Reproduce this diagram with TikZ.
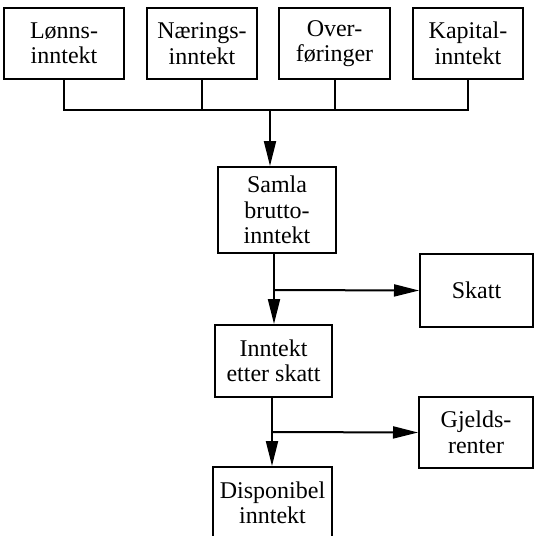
\documentclass[tikz,border=0pt]{standalone}
\usepackage{fontspec}
\setmainfont{Liberation Serif}
\usetikzlibrary{arrows.meta}
\tikzset{
  box/.style={draw, line width=2pt, align=center, inner sep=0pt,
    font=\fontsize{24}{25.5}\selectfont},
  arr/.style={line width=2pt, -{Triangle[length=25pt,width=12pt]}},
  lin/.style={line width=2pt}
}
\begin{document}
\begin{tikzpicture}[x=1pt,y=-1pt]
\useasboundingbox (0,0) rectangle (534,536);

% Inntektskilder
\node[box, minimum width=120pt, minimum height=71pt] (lonn) at (64,43.5) {Lønns-\\inntekt};
\node[box, minimum width=110pt, minimum height=71pt] (naering) at (202,43.5) {Nærings-\\inntekt};
\node[box, minimum width=111pt, minimum height=71pt] (over) at (334.5,43.5) {Over-\\føringer};
\node[box, minimum width=110pt, minimum height=71pt] (kapital) at (468,43.5) {Kapital-\\inntekt};

% Samleskinne
\coordinate (buss) at (270,110);
\draw[lin] (lonn.south) |- (buss) -| (kapital.south);
\draw[lin] (naering.south) -- (naering.south |- buss);
\draw[lin] (over.south) -- (over.south |- buss);

% Midtkolonne
\node[box, minimum width=118pt, minimum height=86pt] (samla) at (277,210) {Samla\\brutto-\\inntekt};
\node[box, minimum width=117pt, minimum height=72pt] (etter) at (273.5,361) {Inntekt\\etter skatt};
\node[box, minimum width=119pt, minimum height=72pt] (disp) at (272.5,503) {Disponibel\\inntekt};

% Fradrag
\node[box, minimum width=113pt, minimum height=73pt] (skatt) at (476.5,290.5) {Skatt};
\node[box, minimum width=114pt, minimum height=71pt] (gjeld) at (476,432.5) {Gjelds-\\renter};

% Piler
\draw[arr] (buss) -- (buss |- samla.north);
\coordinate (s1) at (274,290);
\draw[lin] (s1 |- samla.south) -- (s1);
\draw[arr] (s1) -- (s1 |- etter.north);
\draw[arr] (s1) -- (skatt.west);
\coordinate (s2) at (272,432);
\draw[lin] (s2 |- etter.south) -- (s2);
\draw[arr] (s2) -- (s2 |- disp.north);
\draw[arr] (s2) -- (gjeld.west);

\end{tikzpicture}
\end{document}
